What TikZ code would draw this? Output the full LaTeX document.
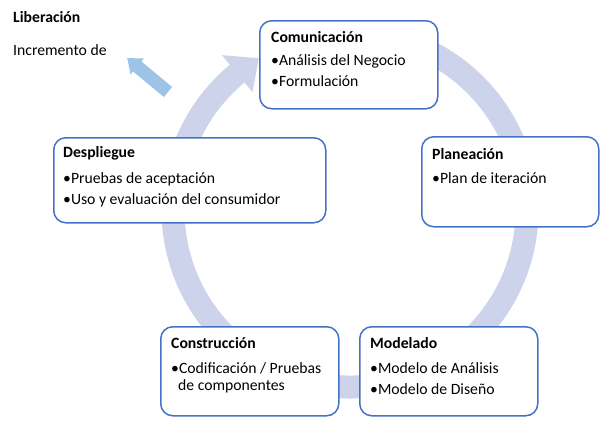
\documentclass[tikz,border=0pt]{standalone}
\usepackage{fontspec}
\setmainfont{Carlito}
\definecolor{ringc}{RGB}{205,211,234}
\definecolor{boxblue}{RGB}{68,114,196}
\definecolor{incblue}{RGB}{157,195,230}
\usetikzlibrary{calc}
\begin{document}
\begin{tikzpicture}[x=1pt,y=-1pt,
  box/.style={draw=boxblue, line width=1.5pt, fill=white, rounded corners=12pt, inner sep=0pt, anchor=north west},
  ttl/.style={anchor=base west, inner sep=0pt, font=\fontsize{15.7}{18}\selectfont\bfseries},
  txt/.style={anchor=base west, inner sep=0pt, font=\fontsize{15.7}{18}\selectfont}]
\useasboundingbox (0,0) rectangle (609,423);
\coordinate (C) at (350,210);
% ring
\draw[ringc, line width=23pt] ([shift={(260:177)}]C) arc[start angle=260, end angle=591, radius=177];
\fill[ringc] ([shift={(230.4:153)}]C) -- ([shift={(230.4:201)}]C) -- ([shift={(239:177)}]C) -- cycle;
% increment arrow
\begin{scope}[shift={(168,92)}, rotate=140.3]
\fill[incblue] (0,-6.5) -- (40,-6.5) -- (40,-10.5) -- (53,0) -- (40,10.5) -- (40,6.5) -- (0,6.5) -- cycle;
\end{scope}
\node[ttl] (lib) at (13,22) {Liberación};
\node[txt] (inc) at (13,55) {Incremento de};
% boxes
\node[box, minimum width=178pt, minimum height=88pt] (com) at (259,20) {};
\node[box, minimum width=177pt, minimum height=90pt] (pla) at (421,136) {};
\node[box, minimum width=178pt, minimum height=89pt] (mod) at (359,326) {};
\node[box, minimum width=178pt, minimum height=89pt] (con) at (160,326) {};
\node[box, minimum width=272pt, minimum height=85pt] (des) at (53,137) {};
% texts
\node[ttl] (comt) at (271,42) {Comunicación};
\node[txt] (com1) at (271,65) {•Análisis del Negocio};
\node[txt] (com2) at (271,86) {•Formulación};
\node[ttl] (plat) at (432,159) {Planeación};
\node[txt] (pla1) at (432,183) {•Plan de iteración};
\node[ttl] (dest) at (63,157) {Despliegue};
\node[txt] (des1) at (63,183) {•Pruebas de aceptación};
\node[txt] (des2) at (63,204) {•Uso y evaluación del consumidor};
\node[ttl] (cont) at (171,348) {Construcción};
\node[txt] (con1) at (171,373) {•Codificación / Pruebas};
\node[txt] (con2) at (178,390) {de componentes};
\node[ttl] (modt) at (370,348) {Modelado};
\node[txt] (mod1) at (370,373) {•Modelo de Análisis};
\node[txt] (mod2) at (370,394) {•Modelo de Diseño};
\end{tikzpicture}
\end{document}
